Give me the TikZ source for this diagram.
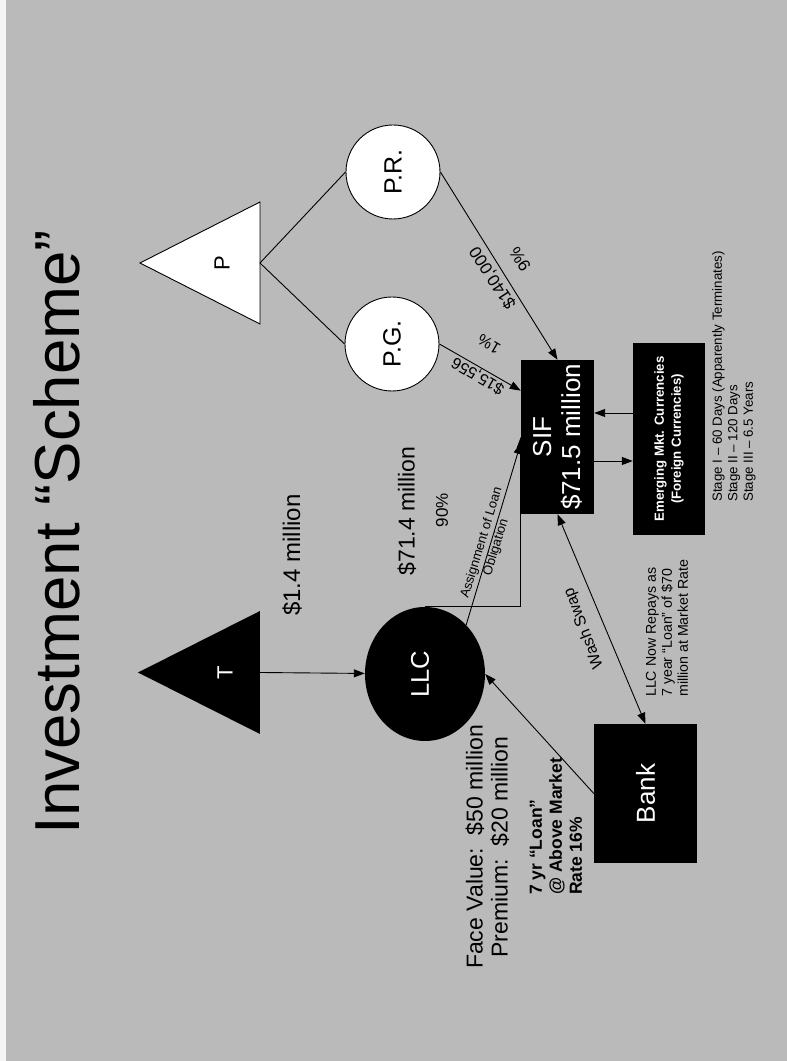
\documentclass[tikz,border=0pt]{standalone}
\usepackage{fontspec}
\setmainfont{Liberation Sans}
\usetikzlibrary{shapes.geometric,arrows.meta,calc}
\definecolor{bg}{RGB}{186,186,186}
\begin{document}
\begin{tikzpicture}[x=1pt,y=1pt,
  arr/.style={-{Triangle[length=11pt,width=8pt]}, line width=0.9pt},
  dbl/.style={{Triangle[length=11pt,width=8pt]}-{Triangle[length=11pt,width=8pt]}, line width=0.9pt},
  ln/.style={line width=0.9pt},
  blackbox/.style={rectangle, fill=black, text=white, inner sep=0pt, align=center},
  whitecirc/.style={circle, draw=black, line width=0.9pt, fill=white, minimum size=94pt, inner sep=0pt, font=\fontsize{25}{25}\selectfont},
  lbl/.style={inner sep=0pt, align=center}]
\begin{scope}[rotate=90, transform shape]
\useasboundingbox (0,0) rectangle (1061,787);
\fill[bg] (0,0) rectangle (1061,787);
\fill[white!85!bg] (0,781) rectangle (1061,787);

% title
\node[anchor=base, inner sep=0pt, font=\fontsize{63.6}{70}\selectfont] (title) at (529,707) {Investment “Scheme”};

% triangles
\coordinate (Ta) at (388.5,649); \coordinate (Tl) at (327,527); \coordinate (Tr) at (450,527); \coordinate (Tb) at (388.5,527);
\fill[black] (Tl) -- (Tr) -- (Ta) -- cycle;
\node[text=white, font=\fontsize{22}{22}\selectfont] (T) at (388.5,562) {T};
\coordinate (Pa) at (798,647); \coordinate (Pl) at (737,527); \coordinate (Pr) at (859,527); \coordinate (Pb) at (798,527);
\filldraw[fill=white, draw=black, ln] (Pl) -- (Pr) -- (Pa) -- cycle;
\node[font=\fontsize{22}{22}\selectfont] (P) at (798,565) {P};

% nodes
\node[ellipse, fill=black, text=white, minimum width=134pt, minimum height=120pt, inner sep=0pt, font=\fontsize{25.6}{26}\selectfont] (LLC) at (387,362) {\raisebox{10pt}{LLC}};
\node[whitecirc] (PG) at (717,395) {P.G.};
\node[whitecirc] (PR) at (889,394) {P.R.};
\node[blackbox, minimum width=154pt, minimum height=73pt, font=\fontsize{26}{29}\selectfont] (SIF) at (624,229.5) {SIF\\\$71.5 million};
\node[blackbox, minimum width=192pt, minimum height=72pt, font=\bfseries\fontsize{13.2}{17}\selectfont] (EM) at (622,118) {Emerging Mkt. Currencies\\(Foreign Currencies)};
\node[blackbox, minimum width=139pt, minimum height=103pt, font=\fontsize{26}{26}\selectfont] (Bank) at (267.5,141.5) {Bank};

% connectors
\draw[arr] (Tb) -- (LLC);
\draw[ln] (Pb) -- (PG.north);
\draw[ln] (Pb) -- (PR.north);
\draw[arr] (PG.south) -- ($(SIF.north)!0.6!(SIF.north east)$);
\draw[arr] (PR.south) -- (SIF.east);
\draw[arr] (LLC.east) |- (SIF.north);
\draw[arr] (LLC.-40) -- ($(SIF.north)+(-6,0)$);
\draw[arr] (Bank.north) -- (LLC.south);
\draw[dbl] (Bank.east) -- (SIF.west);
\draw[arr] ($(EM.north)+(26,0)$) -- ($(SIF.south)+(24,0)$);
\draw[arr] ($(SIF.south)+(-24,0)$) -- ($(EM.north)+(-22,0)$);

% labels
\node[lbl, font=\fontsize{24}{24}\selectfont] (l14) at (506,495) {\$1.4 million};
\node[lbl, font=\fontsize{23}{23}\selectfont] (l714) at (550,380) {\$71.4 million};
\node[lbl, font=\fontsize{17}{17}\selectfont] (l90) at (551,345) {90\%};
\node[lbl, rotate=-17, font=\fontsize{13}{15}\selectfont] (lassign) at (516,298) {Assignment of Loan\\Obligation};
\node[lbl, rotate=21, font=\fontsize{16}{16}\selectfont] (lwash) at (433,203) {Wash Swap};
\node[lbl, rotate=33, font=\fontsize{17}{17}\selectfont] (l140) at (783,294) {\$140,000};
\node[lbl, rotate=33, font=\fontsize{17}{17}\selectfont] (l9) at (802,267) {9\%};
\node[lbl, rotate=60, font=\fontsize{16}{16}\selectfont] (l15) at (685,309) {\$15,556};
\node[lbl, rotate=60, font=\fontsize{16}{16}\selectfont] (l1) at (717,298) {1\%};
\node[lbl, font=\fontsize{23}{25}\selectfont] (face) at (214,299.5) {Face Value:\ \ \$50 million\\Premium:\ \ \$20 million};
\node[lbl, align=left, anchor=west, font=\bfseries\fontsize{17.5}{20}\selectfont] (loan) at (166,231) {7 yr “Loan”\\@ Above Market\\Rate 16\%};
\node[lbl, align=left, anchor=west, font=\fontsize{14.2}{16}\selectfont] (repay) at (364,120) {LLC Now Repays as\\7 year “Loan” of \$70\\million at Market Rate};
\node[lbl, align=left, anchor=west, font=\fontsize{13.3}{15.5}\selectfont] (stage) at (559,53) {Stage I – 60 Days (Apparently Terminates)\\Stage II – 120 Days\\Stage III – 6.5 Years};
\end{scope}
\end{tikzpicture}
\end{document}
